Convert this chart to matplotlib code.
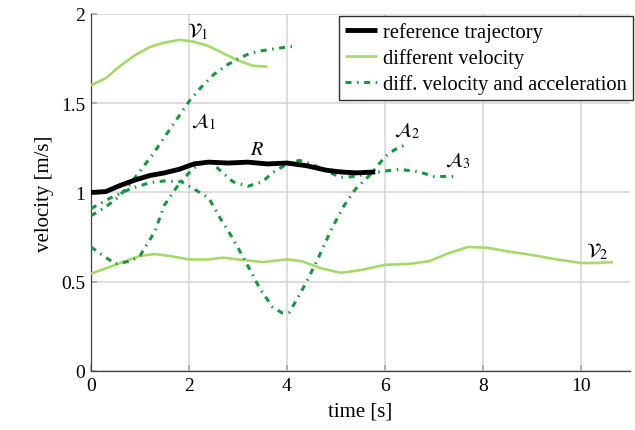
import matplotlib
matplotlib.use("Agg")
import matplotlib.pyplot as plt

plt.rcParams['font.family'] = ['Liberation Serif', 'DejaVu Serif']
plt.rcParams['mathtext.fontset'] = 'stix'
plt.rcParams['lines.scale_dashes'] = False

# ---- data ----
r_t = [0, 0.3, 0.6, 0.9, 1.2, 1.5, 1.8, 2.1, 2.4, 2.8, 3.2, 3.6, 4.0, 4.4, 4.8, 5.1, 5.4, 5.8]
r_v = [1.0, 1.005, 1.04, 1.07, 1.095, 1.11, 1.13, 1.16, 1.17, 1.165, 1.17, 1.16, 1.165, 1.15, 1.125, 1.115, 1.11, 1.115]

v1_t = [0, 0.3, 0.6, 0.9, 1.2, 1.5, 1.8, 2.1, 2.4, 2.7, 3.0, 3.3, 3.6]
v1_v = [1.6, 1.64, 1.71, 1.77, 1.815, 1.84, 1.855, 1.845, 1.82, 1.78, 1.74, 1.71, 1.705]

v2_t = [0, 0.5, 1.0, 1.3, 1.6, 2.0, 2.4, 2.7, 3.0, 3.5, 4.0, 4.3, 4.7, 5.1, 5.5, 6.0, 6.5, 6.9,
        7.3, 7.7, 8.1, 8.5, 9.0, 9.5, 10.0, 10.3, 10.65]
v2_v = [0.545, 0.595, 0.645, 0.655, 0.645, 0.625, 0.625, 0.635, 0.625, 0.61, 0.625, 0.615, 0.575,
        0.55, 0.565, 0.595, 0.6, 0.615, 0.66, 0.695, 0.69, 0.67, 0.65, 0.625, 0.605, 0.605, 0.61]

a1_t = [0, 0.25, 0.5, 0.75, 1.0, 1.25, 1.5, 1.75, 2.0, 2.25, 2.5, 2.75, 3.0, 3.25, 3.5, 3.75, 4.0, 4.2]
a1_v = [0.87, 0.91, 0.96, 1.03, 1.12, 1.21, 1.31, 1.41, 1.51, 1.59, 1.66, 1.71, 1.75, 1.78, 1.795,
        1.805, 1.815, 1.82]

a2_t = [0, 0.4, 0.8, 1.2, 1.5, 1.85, 2.1, 2.4, 2.65, 2.9, 3.2, 3.45, 3.7, 3.9, 4.05, 4.2, 4.4,
        4.65, 4.9, 5.15, 5.4, 5.7, 6.0, 6.2, 6.4]
a2_v = [0.91, 0.97, 1.02, 1.055, 1.065, 1.06, 1.02, 0.97, 0.85, 0.74, 0.59, 0.46, 0.36, 0.325,
        0.33, 0.4, 0.5, 0.64, 0.79, 0.92, 1.02, 1.1, 1.2, 1.24, 1.265]

a3_t = [0, 0.2, 0.5, 0.8, 1.0, 1.3, 1.5, 1.75, 2.0, 2.2, 2.45, 2.65, 2.9, 3.2, 3.5, 3.7, 4.0,
        4.25, 4.5, 4.8, 5.1, 5.4, 5.7, 6.0, 6.3, 6.7, 7.0, 7.5]
a3_v = [0.695, 0.655, 0.60, 0.615, 0.645, 0.78, 0.93, 1.03, 1.11, 1.16, 1.17, 1.12, 1.06, 1.035,
        1.06, 1.11, 1.16, 1.18, 1.16, 1.12, 1.085, 1.09, 1.11, 1.12, 1.13, 1.115, 1.09, 1.09]

x_ticks = [0, 2, 4, 6, 8, 10]
y_ticks = [0, 0.5, 1, 1.5, 2]
y_tick_labels = ['0', '0.5', '1', '1.5', '2']

labels = [
    (r'$\mathcal{V}_1$', 2.18, 1.905),
    (r'$\mathcal{A}_1$', 2.29, 1.40),
    (r'$R$', 3.39, 1.24),
    (r'$\mathcal{A}_2$', 6.45, 1.35),
    (r'$\mathcal{A}_3$', 7.49, 1.18),
    (r'$\mathcal{V}_2$', 10.33, 0.67),
]

light = '#a6d96a'
dark = '#1a9641'
dashdot = (0, (4.3, 4.0, 1.1, 4.0))
FS = 14

fig = plt.figure(figsize=(6.35, 4.31), dpi=100)
ax = fig.add_axes([0.1433, 0.1369, 0.9921 - 0.1433, 0.9652 - 0.1369])

ax.plot(r_t, r_v, color='black', lw=3.5, solid_capstyle='butt', label='reference trajectory', zorder=5)
ax.plot(v1_t, v1_v, color=light, lw=1.9, solid_capstyle='butt', label='different velocity', zorder=4)
ax.plot(v2_t, v2_v, color=light, lw=1.9, solid_capstyle='butt', zorder=4)
ax.plot(a1_t, a1_v, color=dark, lw=2.2, ls=dashdot, dash_capstyle='butt',
        label='diff. velocity and acceleration', zorder=4)
ax.plot(a2_t, a2_v, color=dark, lw=2.2, ls=dashdot, dash_capstyle='butt', zorder=4)
ax.plot(a3_t, a3_v, color=dark, lw=2.2, ls=dashdot, dash_capstyle='butt', zorder=4)

for txt, x, y in labels:
    ax.text(x, y, txt, fontsize=14.5, ha='center', va='center', zorder=6)

ax.set_xlim(0, 11)
ax.set_ylim(0, 2)
ax.set_xticks(x_ticks)
ax.set_yticks(y_ticks)
ax.set_yticklabels(y_tick_labels)
ax.grid(True, color='#d5d5d5', lw=1.1, zorder=0)
ax.set_axisbelow(True)
for s in ['top', 'right']:
    ax.spines[s].set_visible(False)
for s in ['left', 'bottom']:
    ax.spines[s].set_color('#404040')
    ax.spines[s].set_linewidth(0.9)
ax.tick_params(direction='in', length=4, width=1.1, color='#a0a0a0', labelsize=FS, pad=4)

ax.set_xlabel('time [s]', fontsize=15, labelpad=6)
ax.set_ylabel('velocity [m/s]', fontsize=15, labelpad=5)

leg = fig.legend(loc='upper right', bbox_to_anchor=(0.9969, 0.9606), fontsize=14.8,
                 frameon=True, fancybox=False, edgecolor='#303030', framealpha=1,
                 handlelength=1.55, handletextpad=0.3, labelspacing=0.3, borderpad=0.3,
                 borderaxespad=0)
leg.get_frame().set_linewidth(1.0)

fig.savefig('out.png', dpi=100)
